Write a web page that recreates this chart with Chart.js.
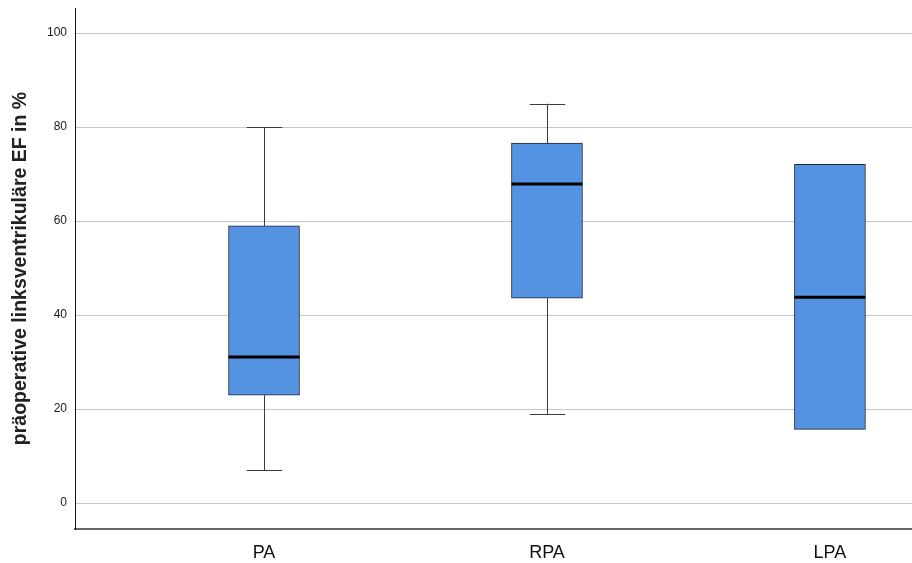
<!DOCTYPE html>
<html>
<head>
<meta charset="utf-8">
<script src="https://cdn.jsdelivr.net/npm/chart.js@4"></script>
<style>
  html, body { margin: 0; padding: 0; background: #fff; overflow: hidden; }
</style>
</head>
<body>
<canvas id="box" width="912" height="563"></canvas>
<script>
// box plot values
const categories = ['PA', 'RPA', 'LPA'];
const positions = [1, 2, 3];
const whiskerLow = [7, 19, 15.7];
const q1 = [23, 43.6, 15.7];
const median = [31.1, 67.9, 43.8];
const q3 = [59, 76.6, 72.1];
const whiskerHigh = [80, 85, 72.1];
const yTicks = [0, 20, 40, 60, 80, 100];

const boxWidth = 71;

const whiskerPlugin = {
    id: 'boxWhiskers',
    beforeDatasetsDraw(chart) {
        const {ctx, scales: {x, y}} = chart;
        ctx.save();
        ctx.strokeStyle = '#3c3c3c';
        ctx.lineWidth = 1;
        positions.forEach((p, i) => {
            const cx = Math.round(x.getPixelForValue(p)) + 0.5;
            const half = boxWidth / 4;
            const segs = [[whiskerLow[i], q1[i]], [q3[i], whiskerHigh[i]]];
            segs.forEach(([a, b]) => {
                if (a === b) return;
                const ya = y.getPixelForValue(a), yb = y.getPixelForValue(b);
                ctx.beginPath();
                ctx.moveTo(cx, ya);
                ctx.lineTo(cx, yb);
                ctx.stroke();
            });
            [whiskerLow[i], whiskerHigh[i]].forEach(v => {
                if (v === q1[i] || v === q3[i]) return;
                const yy = Math.round(y.getPixelForValue(v)) + 0.5;
                ctx.beginPath();
                ctx.moveTo(cx - half, yy);
                ctx.lineTo(cx + half, yy);
                ctx.stroke();
            });
        });
        ctx.restore();
    },
    afterDatasetsDraw(chart) {
        const {ctx, scales: {x, y}} = chart;
        ctx.save();
        ctx.strokeStyle = '#000';
        ctx.lineWidth = 3;
        positions.forEach((p, i) => {
            const cx = x.getPixelForValue(p);
            const ym = y.getPixelForValue(median[i]);
            ctx.beginPath();
            ctx.moveTo(cx - boxWidth / 2, ym);
            ctx.lineTo(cx + boxWidth / 2, ym);
            ctx.stroke();
        });
        ctx.restore();
    }
};

new Chart(document.getElementById('box').getContext('2d'), {
    type: 'bar',
    data: {
        datasets: [{
            data: positions.map((p, i) => ({x: p, y: [q1[i], q3[i]]})),
            backgroundColor: '#5493e2',
            borderColor: '#1f2630',
            borderWidth: 1,
            borderSkipped: false,
            barThickness: boxWidth
        }]
    },
    options: {
        responsive: false,
        animation: false,
        layout: { padding: { top: 8, right: 0, left: 0, bottom: 0 } },
        plugins: {
            legend: { display: false },
            tooltip: { enabled: false }
        },
        scales: {
            x: {
                type: 'linear',
                offset: false,
                min: 0.332,
                max: 3.29,
                afterBuildTicks(axis) {
                    axis.ticks = positions.map(v => ({value: v}));
                },
                afterFit(axis) { axis.height = 34; },
                grid: { display: false, offset: false },
                border: { display: true, color: '#666', width: 2 },
                ticks: {
                    callback: (v, i) => categories[i],
                    font: { family: 'Liberation Sans', size: 18 },
                    color: '#111',
                    padding: 5,
                    maxRotation: 0
                }
            },
            y: {
                min: -5.5,
                max: 105.35,
                afterBuildTicks(axis) {
                    axis.ticks = yTicks.map(v => ({value: v}));
                },
                afterFit(axis) {
                    axis.width = 75;
                    axis.paddingTop = 0;
                    axis.paddingBottom = 0;
                },
                grid: { color: '#c6c6c6', lineWidth: 1, drawTicks: false },
                border: { display: true, color: '#111', width: 1 },
                ticks: {
                    font: { family: 'Liberation Sans', size: 12 },
                    color: '#1a1a1a',
                    padding: 8
                },
                title: {
                    display: true,
                    text: 'präoperative linksventrikuläre EF in %',
                    font: { family: 'Liberation Sans', size: 19.5, weight: 'bold' },
                    color: '#222',
                    padding: { top: 9, bottom: 0 }
                }
            }
        }
    },
    plugins: [whiskerPlugin]
});
</script>
</body>
</html>
